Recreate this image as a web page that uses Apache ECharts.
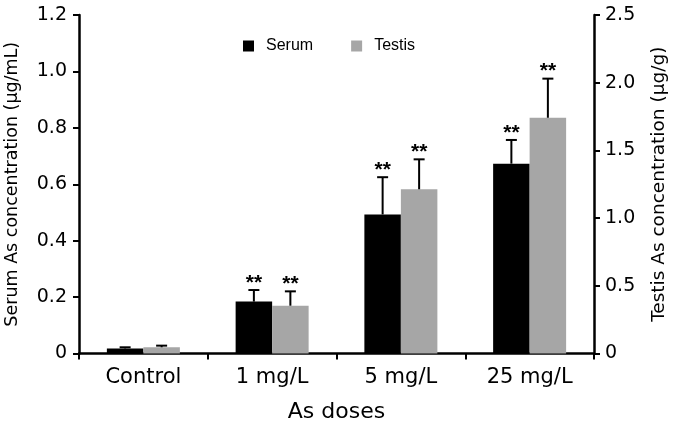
<!DOCTYPE html>
<html>
<head>
<meta charset="utf-8">
<script src="https://cdn.jsdelivr.net/npm/echarts@6/dist/echarts.min.js"></script>
<style>
html,body{margin:0;padding:0;background:#fff;}
#chart{width:675px;height:427px;}
</style>
</head>
<body>
<div id="chart"></div>
<script>
// ---- data ----
const categories = ['Control', '1 mg/L', '5 mg/L', '25 mg/L'];
const serumValues = [0.018, 0.184, 0.493, 0.673];
const serumErrors = [0.004, 0.041, 0.132, 0.084];
const testisValues = [0.046, 0.353, 1.213, 1.741];
const testisErrors = [0.012, 0.106, 0.221, 0.289];
const serumStars = ['', '**', '**', '**'];
const testisStars = ['', '**', '**', '**'];
const leftTicks = [0, 0.2, 0.4, 0.6, 0.8, 1.0, 1.2];
const rightTicks = [0, 0.5, 1.0, 1.5, 2.0, 2.5];

// ---- styling ----
const BAR_W = 36.5;
const TICK_FONT = 'DejaVu Sans';
const fmt = v => (v === 0 ? '0' : v.toFixed(1));

function errSeries(name, values, errors, stars, yIdx, side) {
  return {
    name: name,
    type: 'custom',
    xAxisIndex: 0,
    yAxisIndex: yIdx,
    z: 5,
    silent: true,
    data: values.map((v, i) => [i, v, errors[i]]),
    renderItem: function (params, api) {
      const i = api.value(0), v = api.value(1), e = api.value(2);
      const p0 = api.coord([i, v]);
      const p1 = api.coord([i, v + e]);
      const x = p0[0] + side * BAR_W / 2;
      const children = [
        { type: 'line', shape: { x1: x, y1: p0[1], x2: x, y2: p1[1] },
          style: { stroke: '#000', lineWidth: 2 } },
        { type: 'line', shape: { x1: x - 5.5, y1: p1[1], x2: x + 5.5, y2: p1[1] },
          style: { stroke: '#000', lineWidth: 2 } }
      ];
      const s = stars[params.dataIndex];
      if (s) {
        children.push({
          type: 'text',
          style: {
            text: s, x: x, y: p1[1] - 7,
            align: 'center', verticalAlign: 'middle',
            font: 'bold 21px "Liberation Sans", Arial, sans-serif',
            fill: '#000'
          }
        });
      }
      return { type: 'group', children: children };
    }
  };
}

const chart = echarts.init(document.getElementById('chart'), null, { renderer: 'canvas' });
chart.setOption({
  animation: false,
  backgroundColor: '#fff',
  grid: { left: 79, right: 81, top: 15, bottom: 73.5, containLabel: false, outerBoundsMode: 'none' },
  legend: {
    data: ['Serum', 'Testis'],
    left: 243, top: 38, padding: 0,
    itemWidth: 11, itemHeight: 11, itemGap: 38,
    icon: 'rect',
    textStyle: { fontFamily: '"Liberation Sans", Arial, sans-serif', fontSize: 16, color: '#000', padding: [0, 0, 0, 7] }
  },
  xAxis: {
    type: 'category',
    data: categories,
    boundaryGap: true,
    name: 'As doses',
    nameLocation: 'middle',
    nameGap: 48,
    nameTextStyle: { fontFamily: TICK_FONT, fontSize: 22, color: '#000' },
    axisLine: { show: true, lineStyle: { color: '#000', width: 2.5 } },
    axisTick: { show: true, alignWithLabel: false, length: 6, lineStyle: { color: '#000', width: 2 } },
    axisLabel: { fontFamily: TICK_FONT, fontSize: 21, color: '#000', margin: 14 },
    splitLine: { show: false }
  },
  yAxis: [
    {
      type: 'value', position: 'left',
      min: leftTicks[0], max: leftTicks[leftTicks.length - 1], interval: 0.2,
      name: 'Serum As concentration (μg/mL)',
      nameLocation: 'middle', nameGap: 58, nameRotate: 90,
      nameTextStyle: { fontFamily: TICK_FONT, fontSize: 17.5, color: '#000' },
      axisLine: { show: true, lineStyle: { color: '#000', width: 2.5 } },
      axisTick: { show: true, length: 6, lineStyle: { color: '#000', width: 2 } },
      axisLabel: { fontFamily: TICK_FONT, fontSize: 19, color: '#000', margin: 12, formatter: fmt },
      splitLine: { show: false }
    },
    {
      type: 'value', position: 'right',
      min: rightTicks[0], max: rightTicks[rightTicks.length - 1], interval: 0.5,
      name: 'Testis As concentration (μg/g)',
      nameLocation: 'middle', nameGap: 56, nameRotate: 90,
      nameTextStyle: { fontFamily: TICK_FONT, fontSize: 18.5, color: '#000' },
      axisLine: { show: true, lineStyle: { color: '#000', width: 2.5 } },
      axisTick: { show: true, length: 6, lineStyle: { color: '#000', width: 2 } },
      axisLabel: { fontFamily: TICK_FONT, fontSize: 19, color: '#000', margin: 11, formatter: fmt },
      splitLine: { show: false }
    }
  ],
  series: [
    { name: 'Serum', type: 'bar', xAxisIndex: 0, yAxisIndex: 0, data: serumValues,
      barWidth: BAR_W, barGap: '0%', itemStyle: { color: '#000000' } },
    { name: 'Testis', type: 'bar', xAxisIndex: 0, yAxisIndex: 1, data: testisValues,
      barWidth: BAR_W, barGap: '0%', itemStyle: { color: '#a6a6a6' } },
    errSeries('Serum SD', serumValues, serumErrors, serumStars, 0, -1),
    errSeries('Testis SD', testisValues, testisErrors, testisStars, 1, 1)
  ]
});
</script>
</body>
</html>
